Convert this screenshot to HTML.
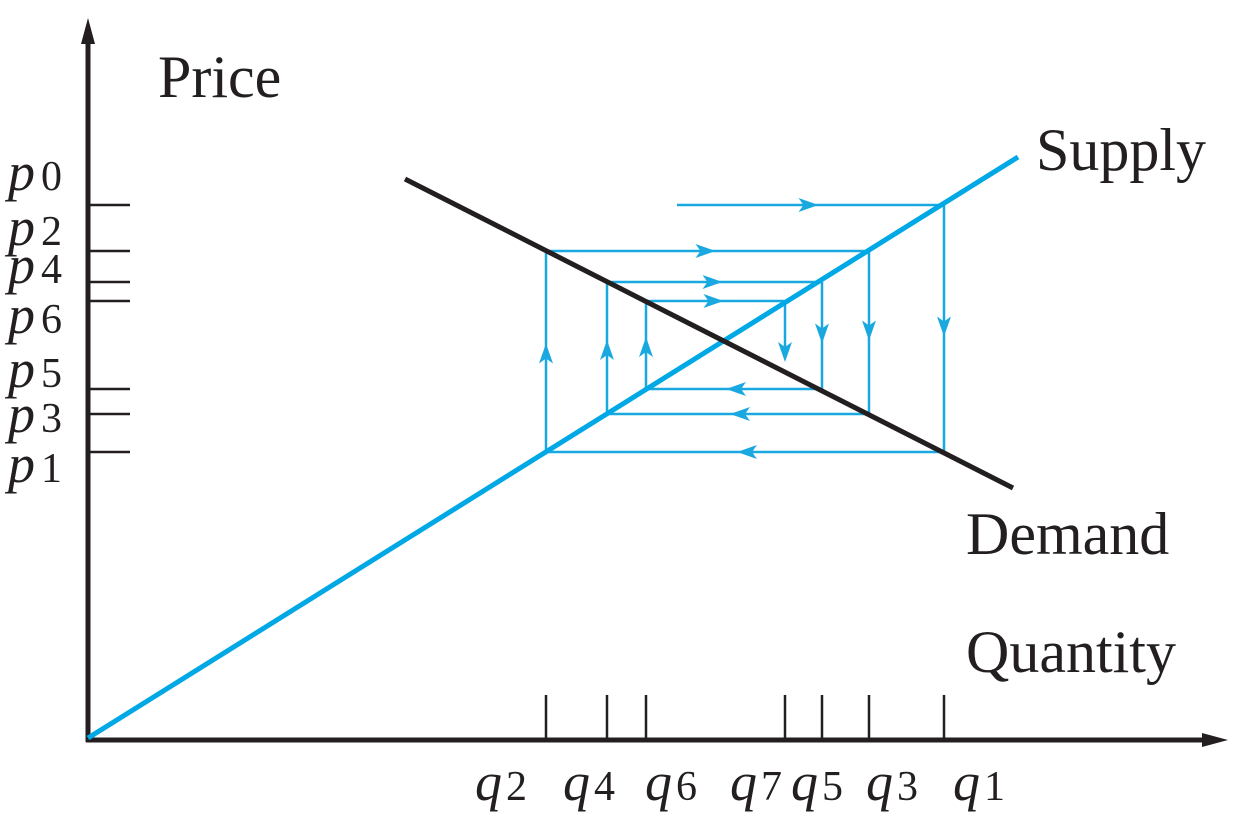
<!DOCTYPE html>
<html><head><meta charset="utf-8"><style>
html,body{margin:0;padding:0;background:#fff;}
svg{display:block;font-family:"Liberation Serif",serif;}
</style></head><body>
<svg id="chart" width="1246" height="829" viewBox="0 0 1246 829" xmlns="http://www.w3.org/2000/svg">
<g id="axes">
<line x1="88" y1="742" x2="88" y2="40" stroke="#231f20" stroke-width="5"/>
<path d="M88,18 L95,44 L81,44 Z" fill="#231f20"/>
<line x1="86" y1="740" x2="1205" y2="740" stroke="#231f20" stroke-width="5"/>
<path d="M1228,740 L1202,733 L1202,747 Z" fill="#231f20"/>
<text x="158" y="97" font-size="60" fill="#231f20">Price</text>
<text x="966" y="672" font-size="60" fill="#231f20">Quantity</text>
<text x="1036" y="170" font-size="60" fill="#231f20">Supply</text>
<text x="966" y="554" font-size="60" fill="#231f20">Demand</text>
</g>
<g id="marks"></g>
</svg>
<script>
var qNames = ["q2","q4","q6","q7","q5","q3","q1"];
var qValues = [45.8, 51.9, 55.8, 69.7, 73.4, 78.1, 85.6];
var pNames = ["p0","p2","p4","p6","p5","p3","p1"];
var pValues = [53.5, 48.9, 45.8, 43.9, 35.1, 32.6, 28.8];
var pLabelY = [175, 230, 268, 318, 372, 417, 467];
var qLabelX = [475, 563, 645, 730, 791, 866, 953];
var supplyLine = [[0, 0.2], [93, 58.3]];
var demandLine = [[31.7, 56.1], [92.5, 25.2]];
var cobweb = [[58.9,53.5],[85.6,53.5],[85.6,28.8],[45.8,28.8],[45.8,48.9],[78.1,48.9],[78.1,32.6],[51.9,32.6],[51.9,45.8],[73.4,45.8],[73.4,35.1],[55.8,35.1],[55.8,43.9],[69.7,43.9],[69.7,38.6]];

function X(q){return 88 + q*10;}
function Y(p){return 740 - p*10;}
var NS="http://www.w3.org/2000/svg";
var g=document.getElementById("marks");
function mk(tag,attrs){var e=document.createElementNS(NS,tag);for(var k in attrs)e.setAttribute(k,attrs[k]);g.appendChild(e);return e;}
function lbl(parent,main,sub,subSize,dx){
  var a=document.createElementNS(NS,"tspan");a.setAttribute("font-style","italic");a.textContent=main;parent.appendChild(a);
  var b=document.createElementNS(NS,"tspan");b.setAttribute("font-size",subSize);b.setAttribute("dx",dx);b.textContent=sub;parent.appendChild(b);
}
for(var i=0;i<pValues.length;i++){
  var t=mk("line",{x1:88,x2:130,y1:Y(pValues[i]),y2:Y(pValues[i]),stroke:"#231f20","stroke-width":2.5});
  
  
  var tx=mk("text",{x:8,y:pLabelY[i]+15,"font-size":54,fill:"#231f20"});
  
  
  lbl(tx,"p",pNames[i].slice(1),42,6);
}
for(var j=0;j<qValues.length;j++){
  var t2=mk("line",{x1:X(qValues[j]),x2:X(qValues[j]),y1:695,y2:740,stroke:"#231f20","stroke-width":2.5});
  
  
  var tq=mk("text",{x:qLabelX[j],y:800,"font-size":54,fill:"#231f20"});
  
  
  lbl(tq,"q",qNames[j].slice(1),42,4);
}
for(var k=0;k<cobweb.length-1;k++){
  var a=cobweb[k],b=cobweb[k+1];
  var x1=X(a[0]),y1=Y(a[1]),x2=X(b[0]),y2=Y(b[1]);
  var seg=mk("line",{x1:x1,y1:y1,x2:x2,y2:y2,stroke:"#1aa8e0","stroke-width":2.5});
  
  
  var last=(k==cobweb.length-2);
  var mx=last?x2:(x1+x2)/2, my=last?y2:(y1+y2)/2;
  var ang=Math.atan2(y2-y1,x2-x1)*180/Math.PI;
  var ar=mk("path",{d:"M8,0 L-12,-7 L-7,0 L-12,7 Z",fill:"#1aa8e0",transform:"translate("+mx+","+my+") rotate("+ang+")"});
  
  
}
var s=mk("line",{x1:X(supplyLine[0][0]),y1:Y(supplyLine[0][1]),x2:X(supplyLine[1][0]),y2:Y(supplyLine[1][1]),stroke:"#00a9e6","stroke-width":5});


var d=mk("line",{x1:X(demandLine[0][0]),y1:Y(demandLine[0][1]),x2:X(demandLine[1][0]),y2:Y(demandLine[1][1]),stroke:"#231f20","stroke-width":5});


</script>
</body></html>
